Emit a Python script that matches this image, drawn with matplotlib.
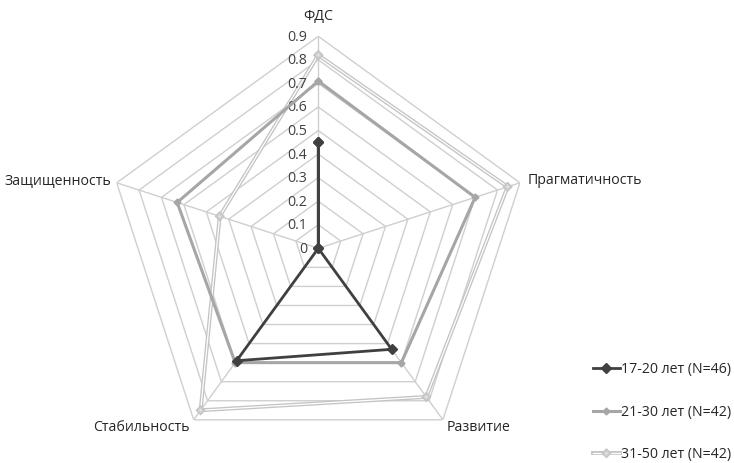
import numpy as np
import matplotlib
matplotlib.use("Agg")
import matplotlib.pyplot as plt
import matplotlib.transforms as mtransforms
import matplotlib.patheffects as pe

categories = ["ФДС", "Прагматичность", "Развитие", "Стабильность", "Защищенность"]
series_names = ["17-20 лет (N=46)", "21-30 лет (N=42)", "31-50 лет (N=42)"]
vals_17_20 = [0.45, 0.0, 0.53, 0.59, 0.0]
vals_21_30 = [0.71, 0.70, 0.60, 0.60, 0.63]
vals_31_50 = [0.82, 0.845, 0.78, 0.85, 0.44]
tick_vals = [0, 0.1, 0.2, 0.3, 0.4, 0.5, 0.6, 0.7, 0.8, 0.9]
tick_labels = ["0", "0.1", "0.2", "0.3", "0.4", "0.5", "0.6", "0.7", "0.8", "0.9"]

plt.rcParams['font.family'] = ['Open Sans', 'DejaVu Sans']

W, H = 734, 463
fig = plt.figure(figsize=(W / 100, H / 100), dpi=100)
cx, cy, R = 318.3, 463 - 248.3, 212
ax = fig.add_axes([(cx - R) / W, (cy - R) / H, 2 * R / W, 2 * R / H], projection='polar')
ax.set_theta_offset(np.pi / 2)
ax.set_theta_direction(-1)
ax.set_ylim(0, 0.9)
ax.grid(False)
ax.set_xticks([])
ax.set_yticks([])
ax.spines['polar'].set_visible(False)
ax.patch.set_alpha(0)

n = len(categories)
theta = np.linspace(0, 2 * np.pi, n, endpoint=False)
theta_c = np.concatenate([theta, theta[:1]])

grid_col = '#cfcfcb'
for lv in tick_vals[1:]:
    ax.plot(theta_c, [lv] * (n + 1), color=grid_col, lw=1.0, zorder=1)
for t in theta:
    ax.plot([t, t], [0, 0.9], color=grid_col, lw=1.0, zorder=1)

def closed(v):
    return list(v) + [v[0]]

l3, = ax.plot(theta_c, closed(vals_31_50), color='white', lw=0.9, marker='D', ms=2.5,
              mfc='#e6e6e6', mec='#d0d0d0', zorder=3, label=series_names[2],
              path_effects=[pe.Stroke(linewidth=2.8, foreground='#c4c4c4'), pe.Normal()])
l2, = ax.plot(theta_c, closed(vals_21_30), color='#a6a6a6', lw=2.2, marker='D', ms=3.5,
              mfc='#a6a6a6', mec='#a6a6a6', zorder=4, label=series_names[1])
l1, = ax.plot(theta_c, closed(vals_17_20), color='#404040', lw=2.0, marker='D', ms=5.5,
              mfc='#404040', mec='#404040', zorder=5, label=series_names[0])

fs = 10.2
# radial tick labels
for v, s in zip(tick_vals, tick_labels):
    tr = mtransforms.offset_copy(ax.transData, fig=fig, x=-11, y=-1, units='dots')
    ax.text(0, v, s, transform=tr, ha='right', va='center', fontsize=fs, color='#404040')

# category labels
offsets = [(0, 20, 'center', 'center'), (8, 2, 'left', 'center'), (4, -8, 'left', 'center'),
           (-4, -8, 'right', 'center'), (-5, 1, 'right', 'center')]
for t, lab, (dx, dy, ha, va) in zip(theta, categories, offsets):
    tr = mtransforms.offset_copy(ax.transData, fig=fig, x=dx, y=dy, units='dots')
    ax.text(t, 0.9, lab, transform=tr, ha=ha, va=va, fontsize=fs, color='#262626')

leg = fig.legend(handles=[l1, l2, l3], loc='upper left', bbox_to_anchor=(593 / W, (H - 362) / H),
                 frameon=False, borderpad=0, borderaxespad=0, handlelength=1.9,
                 handletextpad=0.1, labelspacing=1.95, fontsize=fs)
for t in leg.get_texts():
    t.set_color('#262626')

fig.savefig('out.png', dpi=100)
